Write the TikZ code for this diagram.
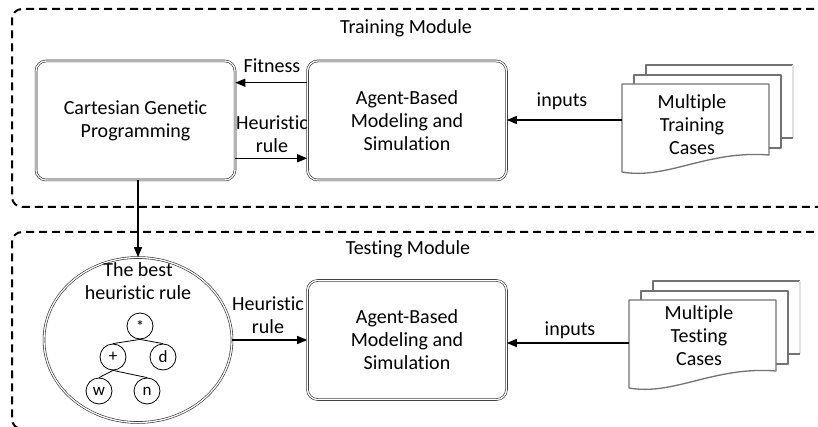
\documentclass[tikz,border=0pt]{standalone}
\usepackage{fontspec}
\setmainfont{Carlito}[Ligatures=NoCommon]
\usepackage{tikz}
\usetikzlibrary{arrows.meta,shapes.geometric}
\newcommand{\lblfont}{\fontsize{20}{23}\selectfont}
\tikzset{
  module/.style={draw=black, line width=2pt, dash pattern=on 8pt off 5pt, rounded corners=10pt},
  proc/.style={draw=black!85, double, double distance=1.3pt, line width=0.6pt, rounded corners=10pt,
    minimum width=199pt, minimum height=119pt, align=center, inner sep=0pt},
  best/.style={ellipse, draw=black!85, double, double distance=1.3pt, line width=0.6pt,
    minimum width=188pt, minimum height=165pt, inner sep=0pt},
  arr/.style={-{Triangle[length=10pt,width=8pt]}, line width=1.3pt},
  page/.style={draw=black!55, line width=1.3pt, line join=round},
  faint/.style={draw=black!12, line width=1.3pt},
  tnode/.style={circle, draw, line width=0.8pt, minimum size=26pt, inner sep=0pt, font=\fontsize{17}{20}\selectfont},
  lab/.style={align=center, inner sep=1pt},
}
\begin{document}
\begin{tikzpicture}[x=1pt, y=-1pt, font=\lblfont]
  \clip (0,0) rectangle (818,427);
  \fill[white] (0,0) rectangle (818,427);
  % module frames
  \draw[module] (840,9) -- (12,9) -- (12,207) -- (840,207);
  \draw[module] (840,232) -- (12,232) -- (12,429) -- (840,429);
  \node[lab] (trmod) at (406,28) {Training Module};
  \node[lab] (temod) at (408,249) {Testing Module};
  % processes
  \node[proc] (cgp) at (135.5,120.5) {Cartesian Genetic\\Programming};
  \node[proc] (abmsTr) at (407,120.5) {Agent-Based\\Modeling and\\Simulation};
  \node[proc] (abmsTe) at (407,340) {Agent-Based\\Modeling and\\Simulation};
  % document stacks
  \foreach \x/\y/\ty/\ay/\nm/\kind in {622/84/125/120/trdocs/Training, 629/300/336/343/tedocs/Testing}{
    \fill[white] (\x+24,\y-19) rectangle (\x+171,\y+54);
    \draw[page] (\x+24,\y-9) |- (\x+171,\y-19);
    \draw[faint] (\x+171,\y-19) -- (\x+171,\y+54);
    \draw[page] (\x+159,\y+54) -- (\x+171,\y+54);
    \draw[page, fill=white] (\x+12,\y-9) rectangle (\x+159,\y+64);
    \draw[page, fill=white] (\x,\y) -- (\x+147,\y) -- (\x+147,\y+71)
      .. controls (\x+85,\y+66) and (\x+45,\y+96) .. (\x,\y+88) -- cycle;
    \node[lab] (\nm) at (\x+70,\ty) {Multiple\\\kind\\Cases};
    \coordinate (\nm-in) at (\x,\ay);
  }
  % best rule
  \node[best] (tbest) at (138,340) {};
  \node[lab] (tbestlbl) at (138,281) {The best\\heuristic rule};
  \node[tnode] (opMul) at (140,326) {*};
  \node[tnode] (opAdd) at (113,357) {+};
  \node[tnode] (varD) at (163,357) {d};
  \node[tnode] (varW) at (99,391) {w};
  \node[tnode] (varN) at (147,391) {n};
  \foreach \a/\b in {opMul/opAdd, opMul/varD, opAdd/varW, opAdd/varN}
    \draw[line width=0.8pt] (\a.south) -- (\b.north);
  % connectors
  \draw[arr] ([yshift=-22pt]abmsTr.north west) -- ([yshift=-22pt]cgp.north east);
  \draw[arr] ([yshift=22pt]cgp.south east) -- ([yshift=22pt]abmsTr.south west);
  \node[lab] (fitlbl) at (272,66) {Fitness};
  \node[lab] (hrTr) at (272,134) {Heuristic\\rule};
  \draw[arr] (trdocs-in) -- (abmsTr.east |- trdocs-in);
  \node[lab] (inTr) at (562,101) {inputs};
  \draw[arr] (tbest.north |- cgp.south) -- (tbest.north);
  \draw[arr] (tbest.east) -- (abmsTe.west |- tbest.east);
  \node[lab] (hrTe) at (268,315) {Heuristic\\rule};
  \draw[arr] (tedocs-in) -- (abmsTe.east |- tedocs-in);
  \node[lab] (inTe) at (570,330) {inputs};
\end{tikzpicture}
\end{document}
